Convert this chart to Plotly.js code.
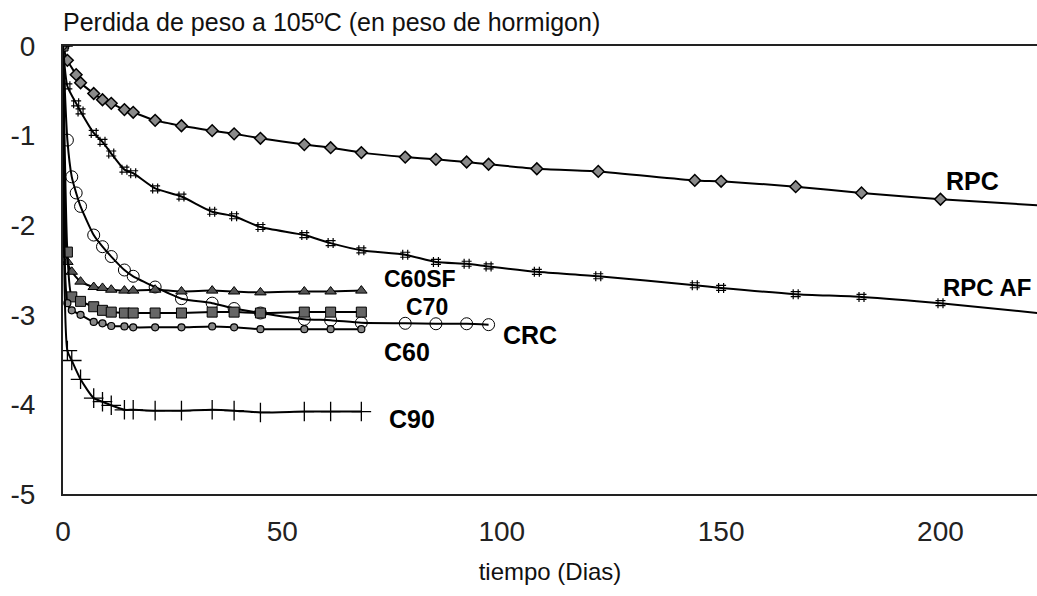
<!DOCTYPE html>
<html>
<head>
<meta charset="utf-8">
<script src="https://cdn.plot.ly/plotly-3.0.1.min.js"></script>
<style>
  html, body { margin: 0; padding: 0; background: #fff; }
  #chart { width: 1037px; height: 596px; }
</style>
</head>
<body>
<div id="chart"></div>
<script>
// ---- data ----
const daysLong = [0, 1, 3, 4, 7, 9, 11, 14, 16, 21, 27, 34, 39, 45, 55, 61, 68, 78, 85, 92, 97, 108, 122, 144, 150, 167, 182, 200];
const rpc   = [0, -0.16, -0.32, -0.41, -0.53, -0.60, -0.64, -0.71, -0.74, -0.83, -0.89, -0.945, -0.98, -1.03, -1.10, -1.135, -1.19, -1.24, -1.265, -1.295, -1.32, -1.37, -1.40, -1.50, -1.51, -1.57, -1.64, -1.71];
const rpcAf = [0, -0.45, -0.64, -0.73, -0.97, -1.07, -1.20, -1.38, -1.42, -1.59, -1.68, -1.85, -1.90, -2.02, -2.11, -2.20, -2.28, -2.33, -2.41, -2.43, -2.46, -2.52, -2.57, -2.67, -2.70, -2.77, -2.80, -2.87];
// fitted curves continue past the last measurement, off the right edge
const tailDay = 226;
const rpcTail = -1.79;
const rpcAfTail = -3.00;

const daysCrc = [0, 1, 2, 3, 4, 7, 9, 11, 14, 16, 21, 27, 34, 39, 45, 55, 61, 68, 78, 85, 92, 97];
const crc     = [0, -1.05, -1.46, -1.64, -1.79, -2.11, -2.24, -2.35, -2.50, -2.57, -2.69, -2.82, -2.87, -2.93, -2.98, -3.05, -3.06, -3.09, -3.095, -3.10, -3.10, -3.11];

const daysShort = [0, 1, 2, 4, 7, 9, 11, 14, 16, 21, 27, 34, 39, 45, 55, 61, 68];
const c60sf = [0, -2.41, -2.52, -2.63, -2.69, -2.70, -2.72, -2.73, -2.73, -2.72, -2.74, -2.73, -2.74, -2.75, -2.74, -2.74, -2.73];
const c70   = [0, -2.30, -2.80, -2.85, -2.91, -2.95, -2.97, -2.98, -2.98, -2.98, -2.98, -2.97, -2.97, -2.98, -2.97, -2.97, -2.97];
const c60   = [0, -2.87, -2.95, -3.00, -3.08, -3.095, -3.125, -3.13, -3.14, -3.14, -3.14, -3.13, -3.14, -3.16, -3.16, -3.16, -3.16];
const c90   = [0, -3.40, -3.51, -3.72, -3.93, -3.97, -4.01, -4.06, -4.06, -4.07, -4.07, -4.06, -4.07, -4.09, -4.08, -4.08, -4.08];

const seriesNames = ['RPC', 'RPC AF', 'CRC', 'C60SF', 'C70', 'C60', 'C90'];
const xTickVals = [0, 50, 100, 150, 200];
const xTickText = ['0', '50', '100', '150', '200'];
const yTickVals = [0, -1, -2, -3, -4, -5];
const yTickText = ['0', '-1', '-2', '-3', '-4', '-5'];

const chartTitle = 'Perdida de peso a 105ºC (en peso de hormigon)';
const xTitle = 'tiempo (Dias)';

// label anchor points (data coords)
const labelX = [201.0, 200.3, 100, 73, 78, 73, 74];
const labelY = [-1.51, -2.70, -3.22, -2.60, -2.915, -3.41, -4.16];

// ---- traces ----
const lineStyle = { color: '#000', width: 2, shape: 'spline', smoothing: 0.6 };

const traces = [
  {
    name: seriesNames[0], x: daysLong.concat([tailDay]), y: rpc.concat([rpcTail]),
    mode: 'lines+markers', line: lineStyle,
    marker: { symbol: 'diamond', size: 9, color: '#8a8a8a', line: { color: '#000', width: 1.5 } }
  },
  {
    name: seriesNames[1], x: daysLong.concat([tailDay]), y: rpcAf.concat([rpcAfTail]),
    mode: 'lines+markers', line: lineStyle,
    marker: { symbol: 'hash-open', size: 10, color: '#000', line: { color: '#000', width: 1.2 } }
  },
  {
    name: seriesNames[2], x: daysCrc, y: crc,
    mode: 'lines+markers', line: lineStyle,
    marker: { symbol: 'circle-open', size: 12, color: '#000', line: { color: '#000', width: 1 } }
  },
  {
    name: seriesNames[3], x: daysShort, y: c60sf,
    mode: 'lines+markers', line: lineStyle,
    marker: { symbol: 'triangle-up', size: 10, color: '#555', line: { color: '#000', width: 1 } }
  },
  {
    name: seriesNames[4], x: daysShort, y: c70,
    mode: 'lines+markers', line: lineStyle,
    marker: { symbol: 'square', size: 10, color: '#666', line: { color: '#000', width: 1 } }
  },
  {
    name: seriesNames[5], x: daysShort, y: c60,
    mode: 'lines+markers', line: lineStyle,
    marker: { symbol: 'circle', size: 7, color: '#888', line: { color: '#000', width: 1.2 } }
  },
  {
    name: seriesNames[6], x: daysShort, y: c90,
    mode: 'lines+markers', line: lineStyle,
    marker: { symbol: 'cross-thin-open', size: 14, color: '#000', line: { color: '#000', width: 1.3 } }
  }
];

const labelSizes = [25, 24, 25, 23, 23, 25, 25];
const annotations = seriesNames.map((n, i) => ({
  x: labelX[i], y: labelY[i], xref: 'x', yref: 'y',
  text: n, showarrow: false, xanchor: 'left', yanchor: 'middle', borderpad: 0,
  font: { family: 'Liberation Sans, Arial, sans-serif', size: labelSizes[i], color: '#000', weight: 'bold' }
}));

const layout = {
  width: 1037, height: 596,
  margin: { l: 63, r: 0, t: 46, b: 102, pad: 0 },
  paper_bgcolor: '#fff', plot_bgcolor: '#fff',
  showlegend: false,
  title: {
    text: chartTitle, xref: 'paper', x: 0, xanchor: 'left',
    yref: 'container', y: 1 - 22 / 596, yanchor: 'middle',
    font: { family: 'Liberation Sans, Arial, sans-serif', size: 25, color: '#111' }
  },
  xaxis: {
    range: [0, 222], tickvals: xTickVals, ticktext: xTickText,
    showgrid: false, zeroline: false, showline: true, mirror: true,
    linecolor: '#222', linewidth: 2, ticks: '', ticklabelstandoff: 11,
    tickfont: { family: 'Liberation Sans, Arial, sans-serif', size: 28, color: '#222' },
    title: {
      text: xTitle, standoff: 18,
      font: { family: 'Liberation Sans, Arial, sans-serif', size: 24, color: '#111' }
    }
  },
  yaxis: {
    range: [-5, 0], tickvals: yTickVals, ticktext: yTickText,
    showgrid: false, zeroline: false, showline: true,
    linecolor: '#222', linewidth: 2, ticks: '', ticklabelstandoff: 20,
    tickfont: { family: 'Liberation Sans, Arial, sans-serif', size: 28, color: '#222' }
  },
  annotations: annotations
};

Plotly.newPlot('chart', traces, layout, { staticPlot: true, displayModeBar: false });
</script>
</body>
</html>
